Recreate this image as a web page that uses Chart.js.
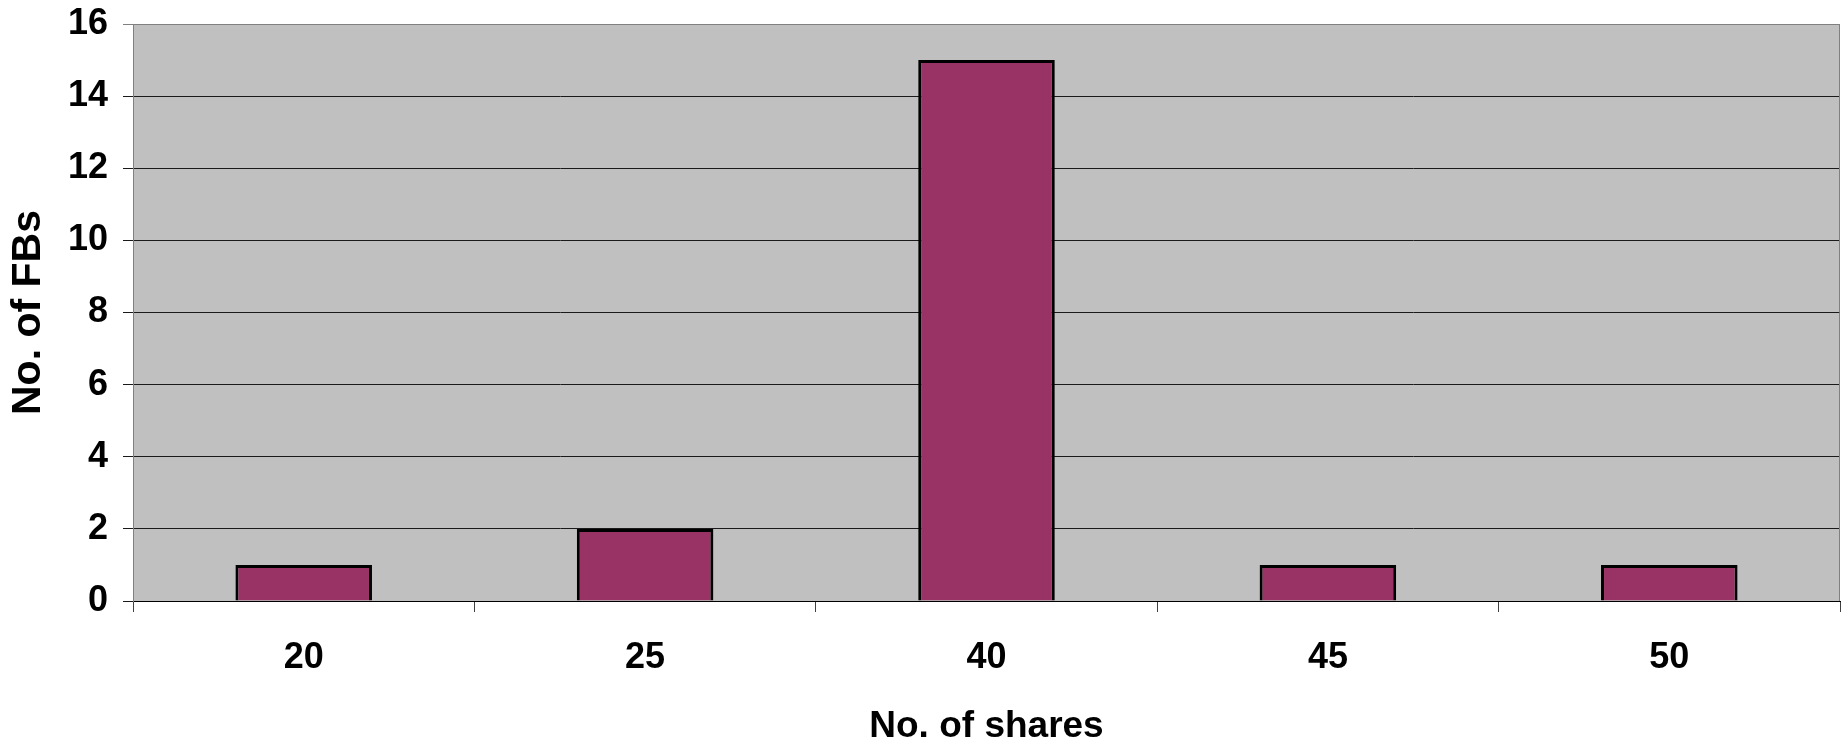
<!DOCTYPE html>
<html>
<head>
<meta charset="utf-8">
<script src="https://cdn.jsdelivr.net/npm/chart.js@4"></script>
<style>
  html, body { margin: 0; padding: 0; background: #fff; }
  #wrap { width: 1843px; height: 744px; }
</style>
</head>
<body>
<div id="wrap"><canvas id="chart"></canvas></div>
<script>
// values
const shares = ['20', '25', '40', '45', '50'];
const fbCounts = [1, 2, 15, 1, 1];
const yMax = 16;
const yStep = 2;

const FONT = "'Liberation Sans', Arial, sans-serif";
const NARROW = "'Liberation Sans Narrow', 'Liberation Sans', Arial, sans-serif";

// grey plot area with a thin frame, like the old spreadsheet charts
const plotBackground = {
    id: 'plotBackground',
    beforeDraw(chart) {
        const { ctx, chartArea: a } = chart;
        ctx.save();
        ctx.fillStyle = '#c0c0c0';
        ctx.fillRect(a.left, a.top, a.right - a.left, a.bottom - a.top);
        ctx.restore();
    },
    afterDraw(chart) {
        const { ctx, chartArea: a } = chart;
        ctx.save();
        ctx.strokeStyle = '#808080';
        ctx.lineWidth = 1;
        ctx.beginPath();
        ctx.moveTo(a.left, a.top + 0.5);
        ctx.lineTo(a.right - 0.5, a.top + 0.5);
        ctx.lineTo(a.right - 0.5, a.bottom);
        ctx.stroke();
        ctx.restore();
    }
};

new Chart(document.getElementById('chart'), {
    type: 'bar',
    data: {
        labels: shares,
        datasets: [{
            label: 'No. of FBs',
            data: fbCounts,
            backgroundColor: '#993366',
            borderColor: '#000',
            borderWidth: 3,
            barPercentage: 0.4,
            categoryPercentage: 1
        }]
    },
    options: {
        responsive: true,
        maintainAspectRatio: false,
        animation: false,
        layout: { padding: { top: 24, right: 3, left: 0, bottom: 0 } },
        plugins: {
            legend: { display: false },
            tooltip: { enabled: false }
        },
        scales: {
            x: {
                grid: {
                    offset: true,
                    drawOnChartArea: false,
                    drawTicks: true,
                    tickLength: 11,
                    color: '#404040'
                },
                border: { color: '#000', width: 1 },
                ticks: {
                    color: '#000',
                    padding: 24,
                    font: { family: NARROW, size: 36, weight: 'bold' }
                },
                title: {
                    display: true,
                    text: 'No. of shares',
                    color: '#000',
                    padding: { top: 0, bottom: 0 },
                    font: { family: FONT, size: 37, weight: 'bold', lineHeight: 0.95 }
                },
                afterFit(scale) { scale.height = 143; }
            },
            y: {
                min: 0,
                max: yMax,
                grid: {
                    color: ctx => (ctx.tick && ctx.tick.value === yMax) ? '#808080' : '#1a1a1a',
                    lineWidth: 1,
                    tickLength: 10
                },
                border: { color: '#808080', width: 1 },
                ticks: {
                    stepSize: yStep,
                    color: '#000',
                    padding: 15,
                    font: { family: NARROW, size: 36, weight: 'bold' }
                },
                title: {
                    display: true,
                    text: 'No. of FBs',
                    color: '#000',
                    padding: { top: 4, bottom: 0 },
                    font: { family: FONT, size: 41, weight: 'bold' }
                },
                afterFit(scale) {
                    scale.width = 133;
                    // let the layout padding alone decide where the plot starts
                    scale.paddingTop = 0;
                    scale.paddingBottom = 0;
                }
            }
        }
    },
    plugins: [plotBackground]
});
</script>
</body>
</html>
